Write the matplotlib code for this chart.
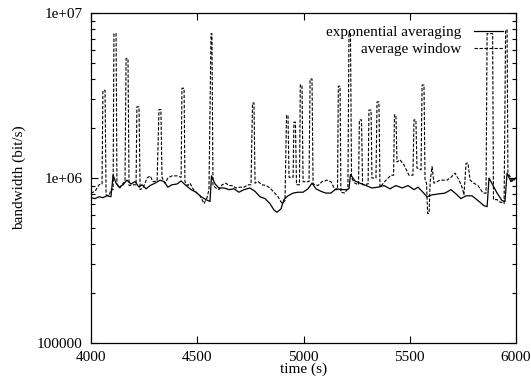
import matplotlib
matplotlib.use("Agg")
import matplotlib.pyplot as plt
from matplotlib.ticker import FixedLocator, LogLocator, NullFormatter, FuncFormatter

# exponential averaging (solid)
exp_t = [4000, 4019, 4038, 4056, 4075, 4094, 4104, 4118, 4132, 4151, 4169, 4188,
         4207, 4226, 4240, 4259, 4278, 4301, 4325, 4344, 4362, 4381, 4405, 4424,
         4447, 4471, 4494, 4518, 4541, 4560, 4567, 4584, 4602, 4626, 4649, 4673,
         4696, 4720, 4748, 4772, 4795, 4819, 4842, 4861, 4875, 4894, 4908, 4927,
         4951, 4974, 4998, 5021, 5040, 5059, 5082, 5106, 5129, 5153, 5181, 5205,
         5214, 5221, 5242, 5266, 5294, 5322, 5351, 5379, 5407, 5435, 5464, 5492,
         5520, 5539, 5562, 5581, 5605, 5633, 5666, 5694, 5718, 5741, 5765, 5793,
         5821, 5849, 5864, 5873, 5892, 5911, 5934, 5948, 5958, 5976, 5991, 6000]
exp_bw = [0.76, 0.75, 0.77, 0.76, 0.78, 0.77, 1.04, 0.93, 0.88, 0.91, 0.97, 0.92,
          0.95, 0.88, 0.91, 0.86, 0.90, 0.93, 0.97, 0.95, 0.88, 0.91, 0.92, 0.96,
          0.90, 0.85, 0.82, 0.77, 0.74, 0.72, 1.03, 0.92, 0.87, 0.87, 0.85, 0.86,
          0.82, 0.85, 0.87, 0.83, 0.77, 0.75, 0.70, 0.64, 0.62, 0.65, 0.74, 0.78,
          0.81, 0.82, 0.82, 0.86, 0.93, 0.86, 0.83, 0.81, 0.81, 0.86, 0.85, 0.85,
          0.86, 1.05, 0.96, 0.93, 0.90, 0.87, 0.88, 0.90, 0.86, 0.90, 0.87, 0.90,
          0.85, 0.88, 0.82, 0.77, 0.79, 0.80, 0.81, 0.85, 0.80, 0.75, 0.78, 0.78,
          0.73, 0.68, 0.67, 1.00, 0.90, 0.81, 0.73, 0.72, 1.07, 0.95, 0.99, 1.00]

# average window (dashed)
win_t = [4000, 4019, 4038, 4052, 4056, 4066, 4071, 4085, 4094, 4104, 4108, 4118,
         4122, 4136, 4151, 4160, 4165, 4174, 4179, 4198, 4212, 4216, 4226, 4231,
         4245, 4264, 4278, 4292, 4311, 4320, 4329, 4334, 4348, 4362, 4381, 4405,
         4424, 4428, 4438, 4442, 4456, 4466, 4480, 4499, 4513, 4532, 4546, 4555,
         4565, 4569, 4574, 4588, 4602, 4617, 4635, 4649, 4664, 4682, 4701, 4720,
         4739, 4753, 4760, 4767, 4772, 4786, 4805, 4824, 4842, 4861, 4880, 4899,
         4908, 4913, 4920, 4927, 4932, 4951, 4955, 4962, 4967, 4981, 4985, 4993,
         4998, 5026, 5031, 5040, 5045, 5068, 5087, 5111, 5129, 5148, 5160, 5164,
         5172, 5176, 5195, 5209, 5214, 5221, 5226, 5242, 5259, 5263, 5273, 5278,
         5304, 5308, 5318, 5322, 5341, 5346, 5355, 5360, 5388, 5412, 5424, 5428,
         5435, 5440, 5454, 5473, 5496, 5515, 5520, 5529, 5534, 5553, 5558, 5567,
         5572, 5579, 5584, 5591, 5596, 5605, 5614, 5642, 5675, 5694, 5713, 5732,
         5746, 5755, 5765, 5774, 5784, 5802, 5821, 5845, 5859, 5864, 5890, 5894,
         5911, 5920, 5944, 5951, 5958, 5962, 5986, 6000]
win_bw = [0.81, 0.83, 0.91, 0.92, 3.4, 3.4, 0.79, 0.78, 0.85, 0.85, 7.5, 7.5,
          0.92, 0.87, 0.93, 0.95, 5.3, 5.3, 0.90, 0.91, 0.91, 2.7, 2.7, 0.85,
          0.87, 1.00, 1.03, 0.95, 0.96, 2.6, 2.6, 1.01, 0.93, 1.00, 1.03, 1.03,
          1.01, 3.5, 3.5, 0.95, 0.90, 0.93, 0.86, 0.81, 0.78, 0.70, 0.76, 0.85,
          7.5, 7.5, 0.90, 0.87, 0.85, 0.91, 0.93, 0.90, 0.90, 0.87, 0.88, 0.88,
          0.91, 0.91, 2.85, 2.85, 0.93, 0.95, 0.91, 0.90, 0.87, 0.82, 0.77, 0.70,
          0.72, 0.73, 2.4, 2.4, 1.01, 1.01, 2.18, 2.18, 0.91, 0.91, 3.66, 3.66,
          0.95, 0.95, 3.98, 3.98, 0.92, 0.90, 0.95, 0.97, 0.95, 0.85, 0.85, 3.6,
          3.6, 0.82, 0.81, 0.87, 7.5, 7.5, 1.00, 0.93, 0.91, 2.25, 2.25, 0.91,
          0.92, 2.58, 2.58, 1.00, 1.00, 2.89, 2.89, 0.88, 0.97, 1.04, 1.04, 2.41,
          2.41, 1.25, 1.29, 1.20, 1.04, 1.04, 2.25, 2.25, 1.15, 1.12, 3.66, 3.66,
          0.97, 0.93, 0.61, 0.61, 0.95, 1.17, 0.93, 0.97, 0.97, 1.01, 1.07, 0.97,
          0.88, 0.79, 1.23, 1.23, 0.97, 0.93, 0.90, 0.81, 0.81, 7.5, 7.5, 0.74,
          0.74, 0.72, 0.70, 7.9, 7.9, 1.07, 0.95, 1.01]

x_ticks = [4000, 4500, 5000, 5500, 6000]
y_ticks = [1e5, 1e6, 1e7]

plt.rcParams['font.family'] = ['Liberation Serif', 'DejaVu Serif']
plt.rcParams['font.size'] = 11

fig = plt.figure(figsize=(5.31, 3.79), dpi=100)
ax = fig.add_axes([91 / 531, 1 - 343 / 379, 425 / 531, 330 / 379])

ax.plot(exp_t, [v * 1e6 for v in exp_bw], color='black', lw=0.9,
        label='exponential averaging')
ax.plot(win_t, [v * 1e6 for v in win_bw], color='black', lw=0.8,
        linestyle=(0, (3, 1.5)), label='average window')

ax.set_yscale('log')
ax.set_xlim(4000, 6000)
ax.set_ylim(1e5, 1e7)

ax.xaxis.set_major_locator(FixedLocator(x_ticks))
ax.yaxis.set_major_locator(FixedLocator(y_ticks))
ax.yaxis.set_minor_locator(LogLocator(base=10, subs=range(2, 10)))
ax.yaxis.set_minor_formatter(NullFormatter())
ax.yaxis.set_major_formatter(FuncFormatter(
    lambda v, p: '100000' if v < 5e5 else ('1e+06' if v < 5e6 else '1e+07')))

ax.tick_params(which='both', direction='in', top=True, right=True, width=0.8)
ax.tick_params(which='major', length=5, labelsize=11, pad=6)
ax.tick_params(which='minor', length=3)
for s in ax.spines.values():
    s.set_linewidth(0.9)

ax.set_xlabel('time (s)', fontsize=11, labelpad=-1)
ax.set_ylabel('bandwidth (bit/s)', fontsize=11, labelpad=8)

ax.legend(loc='upper right', bbox_to_anchor=(0.99, 0.99), frameon=False,
          markerfirst=False, handlelength=1.9, handletextpad=0.8,
          labelspacing=0.2, fontsize=11, borderaxespad=0.2)

fig.savefig('out.png', dpi=100)
